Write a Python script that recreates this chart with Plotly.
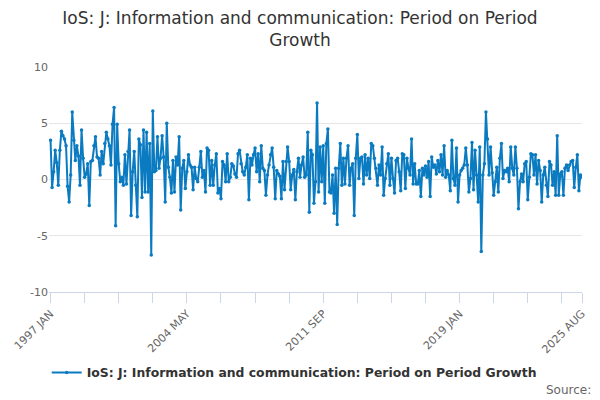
import plotly.graph_objects as go

# monthly growth values, 1997 JAN .. 2025 AUG
seg_1997 = [3.5, -0.7, 0.7, 2.6, 1.5, -0.5, 2.6, 4.3, 3.9, 3.6, 3.0, -0.6, -2.0, 0.4, 6.0, 3.5,
            1.7, 3.0, 2.1, -0.5, 4.4, 1.9, 0.2, 0.5, 1.4, -2.3, 1.6, 1.7, 3.0, 3.8, 2.0, 1.9,
            0.4, 2.5, 1.4, 3.2, 4.2, 3.6, 3.0, 1.3, 4.9, 6.4, -4.1, 4.9, 1.4, -0.2, 0.2, -0.5, 2.2]
seg_2001 = [-0.4, 2.5, 4.4, -3.2, 0.7, 2.5, -0.5, -3.3, 3.6, 3.1, -1.6, 4.4, -1.1, 4.2, -1.1, 3.2,
            -6.7, 6.1,
            0.7, 0.8, 3.8, 1.0, 1.9, 3.9, 2.0, -2.0, 5.0, 1.1, 0.2, -1.2, 1.7, -1.1, 2.0, 1.3,
            3.8, -2.7, 1.0, 1.7, -0.8, 0.7, 2.2, 1.3, 1.1, -0.9, 1.1, 0.1, -0.2, 1.1, 2.5, 0.2, 0.8]
seg_2005 = [-1.1, 2.8, 2.6, -0.5, 1.7, -0.5, 1.3, 2.3, -1.2, -0.8, -1.7, 1.6, 1.3, -0.2, 2.3, -0.2,
            0.2, 1.4, 1.2, 0.5, 0.2, 2.3, 2.6, 1.4, 0.7, 0.4, 1.1, 2.2, -1.8, 1.9, 1.3, 2.2,
            2.8, 0.7, 2.3, -0.2, 3.0, 1.0, 0.8, -1.4, 0.4, 1.3, 2.2, 2.8, 1.1, -1.7, 0.8, 0.5,
            0.3, -1.7, 1.6]
seg_2009 = [-0.9, 1.6, 2.9, 1.6, -0.9, 0.4, 0.9, -1.8, 0.7, 1.9, 0.2, 1.3, 2.0, 0.2, 0.4, 4.2,
            -2.9, 2.6, 2.2, -2.1, -0.2, 6.8,
            -1.1, 2.9, -0.2, 3.0, -2.1, 3.2, 4.5, -1.1, -1.2, 0.4, -3.0, 1.0, -4.0, 1.0, 3.2,
            -0.5, 1.9, -0.4, 1.9, 3.0, -0.5, 1.0, 1.4, -3.2, 1.9, 4.0, 0.1, 1.9, 2.0]
seg_2013 = [-0.4, 2.2, 0.4, 1.9, 0.1, 3.2, 3.0, 1.9, 1.0, -0.5, 1.3, 0.4, 2.9, -1.4, 0.1, 1.4,
            2.3, -0.5, 1.9, 0.1, -1.2, 1.7, 1.9, 0.7, -1.0, 2.3, 2.2, -0.8, 1.9, 1.0, 0.4, 3.6,
            -0.4, 1.4, -0.4, -0.4, 0.8, -1.5, 1.0, 0.4, 1.2, 0.2, 1.6, -1.5, 2.0, 1.1, 1.3,
            0.5, 1.7, 0.7, 2.2]
seg_2018 = [0.4, 3.0, 0.2, 0.8, 0.4, -1.0, 3.5, 0.1, -0.5, 2.8, -2.0, 0.4, 0.8, 1.0, 1.3, 2.8,
            1.3, -1.1, 0.1, 3.3, -0.9, 2.6, 0.4, -2.0, 2.9, -6.4,
            0.4, 1.4, 6.0, 3.6, 0.4, 2.9, 0.6, -1.4, -0.2, 1.1, -1.1, 1.9, 3.2, 0.1, 0.8, 0.7,
            1.0, -0.2, 2.9, 1.0, 0.4, 2.9, 1.0, -2.6, -0.2]
seg_2022 = [0.5, -0.2, 1.4, 1.6, -1.8, 0.2, 2.3, 2.2, 0.4, 2.2, -0.4, 1.7, 0.8, -2.0, 0.4, 1.1,
            -0.5, -1.5, 1.6, 1.3, -0.5, 0.7, -1.4, 3.9,
            -1.4, 0.5, 0.7, -1.4, 1.0, 1.3, 0.8, 1.3, 1.6, 1.7, -0.7, 1.1, 2.2, -1.0, 0.4, 0.2]

values = seg_1997 + seg_2001 + seg_2005 + seg_2009 + seg_2013 + seg_2018 + seg_2022

month_names = ['JAN', 'FEB', 'MAR', 'APR', 'MAY', 'JUN', 'JUL', 'AUG', 'SEP', 'OCT', 'NOV', 'DEC']
months = [f'{1997 + k // 12} {month_names[k % 12]}' for k in range(len(values))]

y_ticks = [-10, -5, 0, 5, 10]
y_labels = ['-10', '-5', '0', '5', '10']
label_months = ['1997 JAN', '2004 MAY', '2011 SEP', '2019 JAN', '2025 AUG']

# tick marks every 22 months plus the last month, labels only on some
tick_idx = list(range(0, len(months), 22)) + [len(months) - 1]
tick_vals = [months[i] for i in tick_idx]
tick_text = [m if m in label_months else '' for m in tick_vals]

name = 'IoS: J: Information and communication: Period on Period Growth'
blue = '#0b7bc1'

fig = go.Figure()
fig.add_trace(go.Scatter(
    x=months,
    y=values,
    mode='lines+markers',
    name=name,
    line=dict(color=blue, width=2),
    marker=dict(color=blue, size=3.5)
))

fig.update_layout(
    width=600, height=400,
    margin=dict(l=42, r=17, t=67, b=108),
    paper_bgcolor='white', plot_bgcolor='white',
    font=dict(family='DejaVu Sans', color='#666666', size=11),
    title=dict(text='IoS: J: Information and communication: Period on Period<br>Growth',
               x=0.5, xanchor='center', y=0.94, yanchor='middle',
               font=dict(size=17, color='#333333')),
    showlegend=True,
    legend=dict(orientation='h', x=0.46, xanchor='center', y=-0.36, yanchor='middle',
                itemwidth=30,
                font=dict(size=12.4, color='#333333', weight='bold')),
)

fig.update_xaxes(
    type='category',
    range=[-1, len(months) - 1],
    tickmode='array', tickvals=tick_vals, ticktext=tick_text,
    tickangle=-45, ticks='outside', ticklen=10, tickcolor='#ccd6eb',
    showline=True, linecolor='#ccd6eb', linewidth=1,
    showgrid=False, zeroline=False,
    tickfont=dict(size=11, color='#666666')
)
fig.update_yaxes(
    range=[-10, 10],
    tickmode='array', tickvals=y_ticks, ticktext=y_labels,
    showgrid=True, gridcolor='#e6e6e6', zeroline=False,
    tickfont=dict(size=11, color='#666666')
)

fig.add_annotation(text='Source:', xref='paper', yref='paper', x=1.02, y=-0.436,
                   xanchor='right', yanchor='middle', showarrow=False,
                   font=dict(size=12, color='#666666'))

# page body has a default margin, drop it so the chart sits at the window corner
fig.write_html('out.html', config={'displayModeBar': False},
               post_script="document.body.style.margin='0';")
